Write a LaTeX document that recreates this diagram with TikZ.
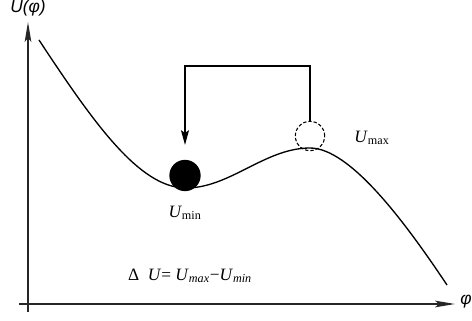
\documentclass[tikz,border=0pt]{standalone}
\usepackage{fontspec}
\setmainfont{Liberation Serif}
\setsansfont{Liberation Sans}
\usetikzlibrary{arrows.meta}
\begin{document}
\begin{tikzpicture}[x=0.75pt,y=-0.75pt,
  axis/.style={line width=1.1pt,draw=black!85,-{Stealth[length=15pt,width=5pt,inset=3pt]}},
  curve/.style={line width=1pt},
  jump/.style={line width=0.9pt,-{Stealth[length=11pt,width=6pt,inset=2pt]}},
  ball/.style={circle,minimum size=23.5pt,inner sep=0pt},
  lbl/.style={inner sep=0pt,font=\fontsize{13}{15}\selectfont}]
\useasboundingbox (0,0) rectangle (472,321);
% axes
\coordinate (o1) at (28,312);
\coordinate (ytip) at (28,22);
\coordinate (o2) at (19,304);
\coordinate (xtip) at (455,304);
\draw[axis] (o1) -- (ytip);
\draw[axis] (o2) -- (xtip);
\node[lbl,font=\sffamily\itshape\fontsize{13}{15}\selectfont] (ylab) at (28,8) {U(φ)};
\node[lbl,font=\sffamily\itshape\fontsize{13}{15}\selectfont] (xlab) at (466,302) {φ};
% potential curve
\draw[curve] (39,40) .. controls (95,125) and (140,188) .. (186,188)
  .. controls (230,188) and (265,148) .. (310,148)
  .. controls (350,148) and (405,222) .. (447,285);
% balls
\node[ball,fill=black] (bmin) at (185,175.5) {};
\node[ball,draw,dash pattern=on 2.5pt off 1.5pt,line width=0.8pt,minimum size=22pt] (bmax) at (310,136) {};
% jump arrow
\coordinate (c1) at (310,66);
\coordinate (c2) at (185,66);
\draw[jump,shorten >=11pt] (bmax.north) -- (c1) -- (c2) -- (bmin.north);
% labels
\node[lbl] (umin) at (185,213) {\textit{U}\textsubscript{min}};
\node[lbl] (umax) at (372,138) {\textit{U}\textsubscript{max}};
\node[lbl] (du) at (190,276) {Δ\enspace\textit{U}= \textit{U}\textsubscript{\textit{max}}−\textit{U}\textsubscript{\textit{min}}};
\end{tikzpicture}
\end{document}
